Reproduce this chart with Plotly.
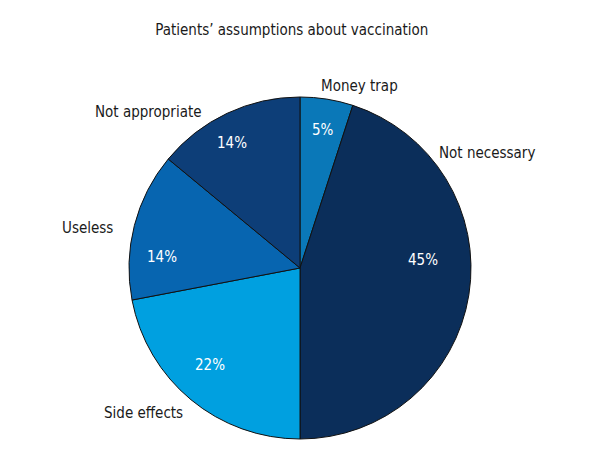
import plotly.graph_objects as go

# Data
categories = ['Money trap', 'Not necessary', 'Side effects', 'Useless', 'Not appropriate']
shares = [5, 45, 22, 14, 14]
colors = ['#0a78b8', '#0b2e5a', '#00a0e0', '#0765b0', '#0d3e78']

FONT = 'DejaVu Sans Condensed, Liberation Sans Narrow, sans-serif'

fig = go.Figure()

fig.add_trace(go.Pie(
    labels=categories,
    values=shares,
    sort=False,
    direction='clockwise',
    rotation=0,
    marker=dict(colors=colors, line=dict(color='#111111', width=1)),
    textinfo='none',
    hoverinfo='label+percent',
    showlegend=False,
))

# label positions (paper coords relative to the pie box)
name_pos = {
    'Money trap': (0.675, 1.032),
    'Not necessary': (1.047, 0.836),
    'Side effects': (0.042, 0.076),
    'Useless': (-0.12, 0.617),
    'Not appropriate': (0.057, 0.956),
}
pct_pos = {
    'Money trap': (0.567, 0.904),
    'Not necessary': (0.860, 0.523),
    'Side effects': (0.237, 0.216),
    'Useless': (0.096, 0.532),
    'Not appropriate': (0.301, 0.865),
}
for name, val in zip(categories, shares):
    x, y = name_pos[name]
    fig.add_annotation(x=x, y=y, xref='paper', yref='paper', text=name,
                       xanchor='center', yanchor='middle', showarrow=False,
                       font=dict(family=FONT, size=15, color='#1a1a1a'))
    x, y = pct_pos[name]
    fig.add_annotation(x=x, y=y, xref='paper', yref='paper', text=f'{val}%',
                       xanchor='center', yanchor='middle', showarrow=False,
                       font=dict(family=FONT, size=15, color='white'))

fig.update_layout(
    title=dict(text="Patients’ assumptions about vaccination", x=0.473, xanchor='center',
               y=0.952, yanchor='middle', font=dict(family=FONT, size=15, color='#1a1a1a')),
    width=600, height=460,
    margin=dict(l=121, r=137, t=89, b=29),
    paper_bgcolor='white',
    plot_bgcolor='white',
)

fig.write_html("out.html")
